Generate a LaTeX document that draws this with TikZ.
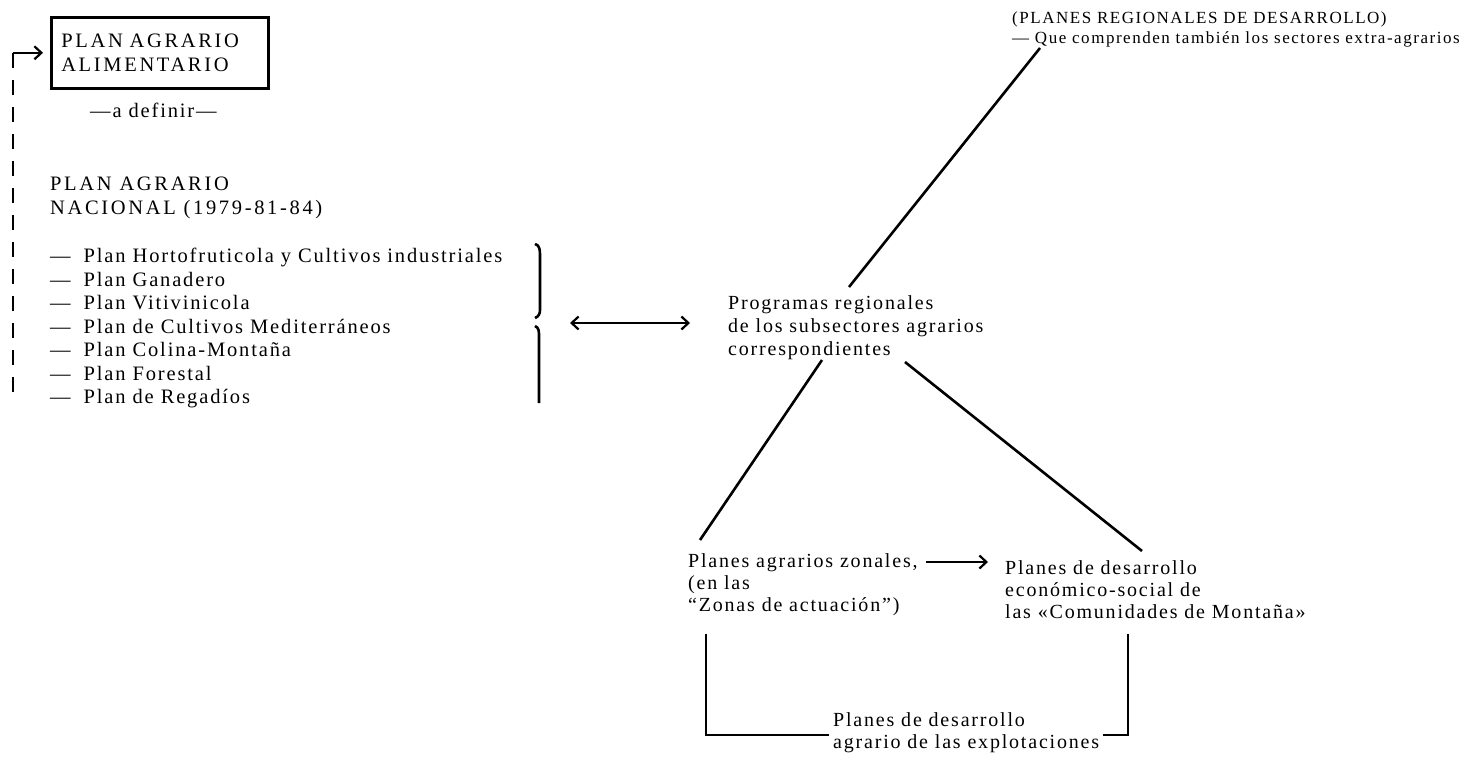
\documentclass[tikz,border=0pt]{standalone}
\usepackage{fontspec}
\setmainfont{Liberation Serif}[LetterSpace=9]
\newfontfamily\capsfont{Liberation Serif}[LetterSpace=13]
\usetikzlibrary{arrows.meta}
\begin{document}
\begin{tikzpicture}[x=1pt,y=-1pt,
 txt/.style={font=\fontsize{20.5}{23.5}\selectfont, align=left, inner sep=0pt, anchor=north west},
 caps/.style={txt, font=\capsfont\fontsize{20.5}{23.5}\selectfont},
 txs/.style={txt, font=\fontsize{17}{20}\selectfont},
 ln/.style={line width=2.6pt},
 barb/.tip={Straight Barb[length=7pt,width=13pt,line width=2.2pt]}]
\useasboundingbox (0,0) rectangle (1471,761);

% left part
\node[caps, draw, line width=2.6pt, anchor=north west, text width=197pt, inner xsep=10pt, inner ysep=10pt, minimum height=71pt, font=\capsfont\fontsize{20.5}{24.5}\selectfont] (ali) at (50,16) {PLAN AGRARIO\\ALIMENTARIO};
\node[txt] (def) at (90,103) {—a definir—};
\node[caps] (nac) at (50,177) {PLAN AGRARIO\\NACIONAL (1979-81-84)};
\node[txt] (list) at (50,248) {—\hspace{6pt} Plan Hortofruticola y Cultivos industriales\\—\hspace{6pt} Plan Ganadero\\—\hspace{6pt} Plan Vitivinicola\\—\hspace{6pt} Plan de Cultivos Mediterráneos\\—\hspace{6pt} Plan Colina-Montaña\\—\hspace{6pt} Plan Forestal\\—\hspace{6pt} Plan de Regadíos};

\coordinate (d0) at (13,402);
\coordinate (d1) at (ali.west -| d0);
\draw[ln, dash pattern=on 15pt off 12pt] (d1) -- (d0);
\draw[ln, -barb, shorten >=7pt] (d1) -- (ali.west);

% bracket
\draw[ln] (535,244) to[out=-10,in=90] (540,256) -- (540,310) to[out=-90,in=20] (535,318);
\draw[ln] (535,326) to[out=-20,in=90] (539,336) -- (539,403);

\coordinate (a1) at (570,323);
\coordinate (a2) at (690,323);
\draw[ln, barb-barb] (a1) -- (a2);

% right part
\node[txt, font=\fontsize{20}{23}\selectfont] (prog) at (728,295) {Programas regionales\\de los subsectores agrarios\\correspondientes};
\node[txs] (reg) at (1012,12) {(PLANES REGIONALES DE DESARROLLO)\\— Que comprenden también los sectores extra-agrarios};

\coordinate (r1) at (1040,48);
\coordinate (p1) at (849,287);
\draw[ln] (r1) -- (p1);
\coordinate (p2) at (822,360);
\coordinate (z1) at (700,540);
\draw[ln] (p2) -- (z1);
\coordinate (p3) at (905,362);
\coordinate (m1) at (1142,551);
\draw[ln] (p3) -- (m1);

\node[txt, font=\fontsize{20}{22}\selectfont] (zon) at (688,553) {Planes agrarios zonales,\\(en las\\“Zonas de actuación”)};
\node[txt, font=\fontsize{20}{22}\selectfont] (com) at (1005,560) {Planes de desarrollo\\económico-social de\\las «Comunidades de Montaña»};
\coordinate (b1) at (926,562);
\coordinate (b2) at (988,562);
\draw[ln, -barb] (b1) -- (b2);

\node[txt, font=\fontsize{20}{22}\selectfont] (exp) at (833,712) {Planes de desarrollo\\agrario de las explotaciones};
\coordinate (l1) at (706,634);
\coordinate (l2) at (1128,634);
\draw[ln] (l1) |- ([xshift=-4pt]exp.west |- 0,735);
\draw[ln] ([xshift=4pt]exp.east |- 0,735) -| (l2);
\end{tikzpicture}
\end{document}
